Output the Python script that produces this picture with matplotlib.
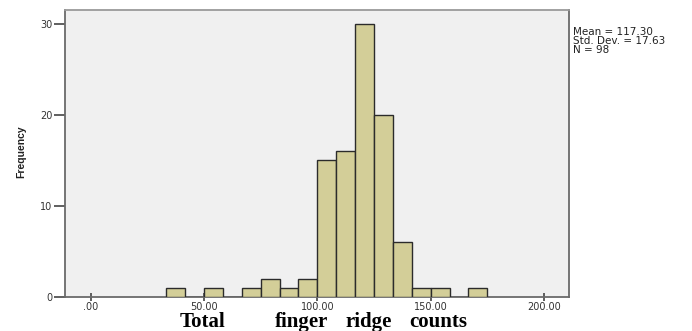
import matplotlib
matplotlib.use("Agg")
import matplotlib.pyplot as plt
import numpy as np

# Data
bin_start = 100 / 3          # left edge of first bin
bin_width = 25 / 3           # SPSS bin width
counts = [1, 0, 1, 0, 1, 2, 1, 2, 15, 16, 30, 20, 6, 1, 1, 0, 1]
x_ticks = [0, 50, 100, 150, 200]
x_tick_labels = [".00", "50.00", "100.00", "150.00", "200.00"]
y_ticks = [0, 10, 20, 30]
stats_text = "Mean = 117.30\nStd. Dev. = 17.63\nN = 98"
xlabel_words = ["Total", "finger", "ridge", "counts"]

W, H = 692, 331
fig = plt.figure(figsize=(W / 100, H / 100), dpi=100)
fig.patch.set_facecolor("white")

ax = fig.add_axes([65 / W, 1 - 297 / H, (569 - 65) / W, (297 - 10) / H])
ax.set_facecolor("#F0F0F0")

lefts = bin_start + bin_width * np.arange(len(counts))
ax.bar(lefts, counts, width=bin_width, align="edge", color="#D3CE98",
       edgecolor="#2b2b2b", linewidth=1.0, zorder=3)

ax.set_xlim(-11.3, 211)
ax.set_ylim(0, 31.5)
ax.set_xticks(x_ticks)
ax.set_xticklabels(x_tick_labels)
ax.set_yticks(y_ticks)

for s in ax.spines.values():
    s.set_color("#6a6a6a")
    s.set_linewidth(1.3)
ax.spines["top"].set_color("#9a9a9a")

ax.tick_params(axis="y", direction="out", length=8, width=1.2, color="#444444",
               labelsize=7, labelcolor="#333333", pad=1)
ax.tick_params(axis="x", direction="inout", length=6, width=1.2, color="#444444",
               labelsize=7, labelcolor="#333333", pad=0.5)
for lbl in ax.get_xticklabels() + ax.get_yticklabels():
    lbl.set_family("DejaVu Sans")

fig.text(21 / W, 1 - 152 / H, "Frequency", rotation=90, ha="center", va="center",
         fontsize=7.5, fontweight="bold", family="Liberation Sans", color="#222222")

fig.text(573 / W, 1 - 27 / H, stats_text, ha="left", va="top", fontsize=7.5,
         family="DejaVu Sans", color="#222222", linespacing=0.85)

word_x = [180, 275, 346, 409]
for wx, w in zip(word_x, xlabel_words):
    fig.text(wx / W, 1 - 327 / H, w, ha="left", va="baseline", fontsize=15,
             fontweight="bold", family="Liberation Serif", color="black")

fig.savefig("out.png", dpi=100)
